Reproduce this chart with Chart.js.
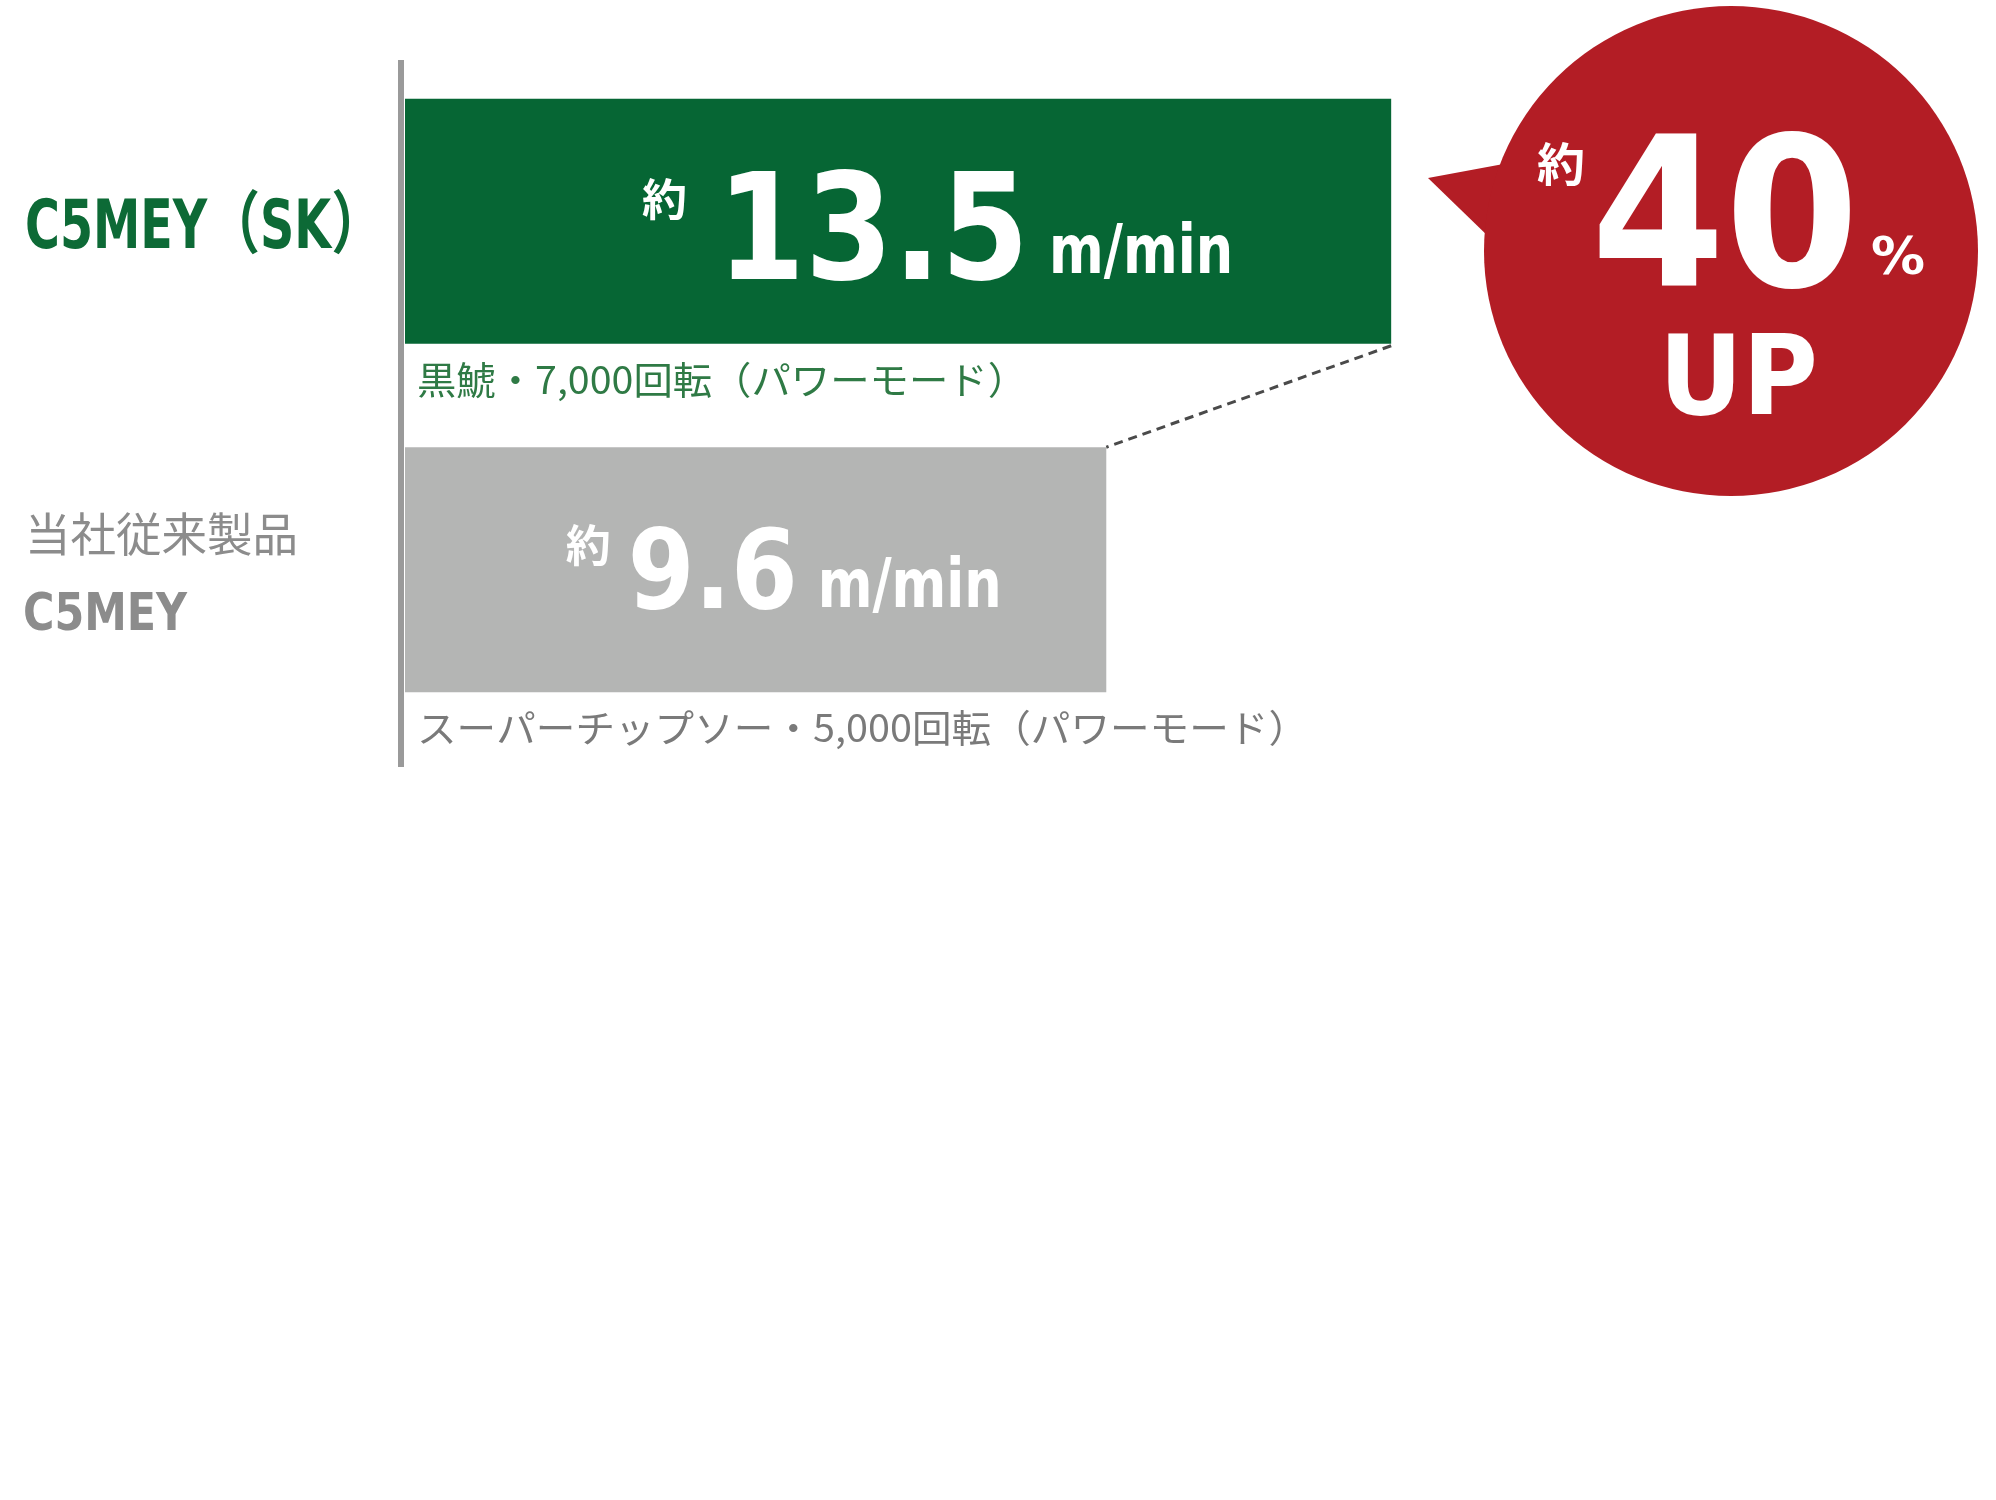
<!DOCTYPE html>
<html lang="ja">
<head>
<meta charset="utf-8">
<title>切断速度比較</title>
<script src="https://cdn.jsdelivr.net/npm/chart.js@4.4.1/dist/chart.umd.min.js"></script>
<style>
  html, body { margin: 0; padding: 0; background: #fff; }
  #wrap { width: 1996px; height: 1500px; }
</style>
</head>
<body>
<div id="wrap"><canvas id="speedChart" width="1996" height="1500"></canvas></div>
<script>
  // データ
  const modelNames = ["C5MEY（SK）", "C5MEY"];
  const modelNotes = ["", "当社従来製品"];
  const speeds = [13.5, 9.6];
  const conditions = ["黒鯱・7,000回転（パワーモード）", "スーパーチップソー・5,000回転（パワーモード）"];
  const unitLabel = "m/min";
  const approxLabel = "約";
  const increasePct = 40;
  const upLabel = "UP";

  const barColors = ["#066634", "#b4b5b4"];
  const labelColors = ["#0d6a36", "#8c8c8c"];
  const condColors = ["#2f7a45", "#7a7a7a"];
  const red = "#b31d25";

  const jp = '"Noto Sans CJK JP", sans-serif';
  const num = '"DejaVu Sans Condensed", "DejaVu Sans", sans-serif';
  const latin = '"DejaVu Sans Condensed", "Noto Sans CJK JP", sans-serif';

  // 横幅を合わせて描く（左端・ベースライン基準）
  function fitText(ctx, text, x, y, font, w) {
    ctx.font = font;
    const m = ctx.measureText(text).width;
    ctx.save();
    ctx.translate(x, y);
    ctx.scale(w / m, 1);
    ctx.textAlign = "left";
    ctx.textBaseline = "alphabetic";
    ctx.fillText(text, 0, 0);
    ctx.restore();
  }

  const overlay = {
    id: "overlay",
    afterDatasetsDraw(chart) {
      const ctx = chart.ctx;
      const bars = chart.getDatasetMeta(0).data;
      const yScale = chart.scales.y;
      const area = chart.chartArea;

      // 縦軸の線
      ctx.save();
      ctx.fillStyle = "#9a9a9a";
      ctx.fillRect(area.left - 7, area.top + 13, 6, area.bottom - area.top + 10);
      ctx.restore();

      // 左のラベル
      const c0 = yScale.getPixelForValue(0);
      const c1 = yScale.getPixelForValue(1);
      ctx.fillStyle = labelColors[0];
      fitText(ctx, modelNames[0], 25, c0 + 27, "bold 68px " + latin, 359);
      ctx.fillStyle = labelColors[1];
      fitText(ctx, modelNotes[1], 25, c1 - 19, "46px " + jp, 273);
      fitText(ctx, modelNames[1], 23, c1 + 60, "bold 52px " + latin, 164);

      // バー内の数値
      const big = [148, 110];
      const numW = [312, 170];
      const gap = [30, 17];
      bars.forEach((b, i) => {
        const left = Math.min(b.base, b.x);
        const right = Math.max(b.base, b.x);
        const total = 45 + gap[i] + numW[i] + 20 + 184;
        const cx = left + (right - left) * 0.54;
        let x = cx - total / 2;
        const yc = b.y;
        ctx.fillStyle = "#ffffff";
        fitText(ctx, approxLabel, x, yc - 5 + (i === 0 ? 0 : -3), "bold 44px " + jp, 45);
        x += 45 + gap[i];
        const base = i === 0 ? yc + 58 : yc + 38;
        fitText(ctx, speeds[i].toFixed(1), x, base, "bold " + big[i] + "px " + num, numW[i]);
        x += numW[i] + 20;
        fitText(ctx, unitLabel, x, base - (i === 0 ? 6 : 1), "bold 68px " + num, 184);

        // 条件テキスト
        ctx.fillStyle = condColors[i];
        const condW = i === 0 ? 610 : 891;
        fitText(ctx, conditions[i], left + 12, b.y + b.height / 2 + 50, "38px " + jp, condW);
      });

      // 破線（上のバー端 → 下のバー端）
      const g = bars[0], s = bars[1];
      ctx.save();
      ctx.strokeStyle = "#4a4a4a";
      ctx.lineWidth = 3;
      ctx.setLineDash([9, 6]);
      ctx.beginPath();
      ctx.moveTo(g.x, g.y + g.height / 2 + 2);
      ctx.lineTo(s.x, s.y - s.height / 2);
      ctx.stroke();
      ctx.restore();

      // 吹き出し
      const bx = 1731, by = 251, r = 247;
      ctx.save();
      ctx.fillStyle = red;
      ctx.beginPath();
      ctx.moveTo(1428, 178);
      ctx.lineTo(1525, 160);
      ctx.lineTo(1492, 240);
      ctx.closePath();
      ctx.fill();
      ctx.beginPath();
      ctx.ellipse(bx, by, r, r - 2, 0, 0, Math.PI * 2);
      ctx.fill();
      ctx.restore();

      ctx.fillStyle = "#ffffff";
      fitText(ctx, approxLabel, 1537, 181, "bold 46px " + jp, 48);
      fitText(ctx, String(increasePct), 1591, 286, "bold 209px " + num, 268);
      fitText(ctx, "%", 1871, 274, "bold 52px " + num, 54);
      fitText(ctx, upLabel, 1659, 414, "bold 110px " + num, 159);
    }
  };

  function dibuja() {
    const ctx = document.getElementById("speedChart").getContext("2d");
    new Chart(ctx, {
      type: "bar",
      data: {
        labels: modelNames,
        datasets: [{
          data: speeds,
          backgroundColor: barColors,
          borderWidth: 0,
          barPercentage: 0.703,
          categoryPercentage: 1
        }]
      },
      options: {
        indexAxis: "y",
        responsive: false,
        animation: false,
        layout: { padding: { left: 405, right: 130, top: 47, bottom: 756 } },
        plugins: { legend: { display: false }, tooltip: { enabled: false } },
        scales: {
          x: { display: false, min: 0, max: 20 },
          y: { display: false }
        }
      },
      plugins: [overlay]
    });
  }

  document.addEventListener("DOMContentLoaded", dibuja);
</script>
</body>
</html>
